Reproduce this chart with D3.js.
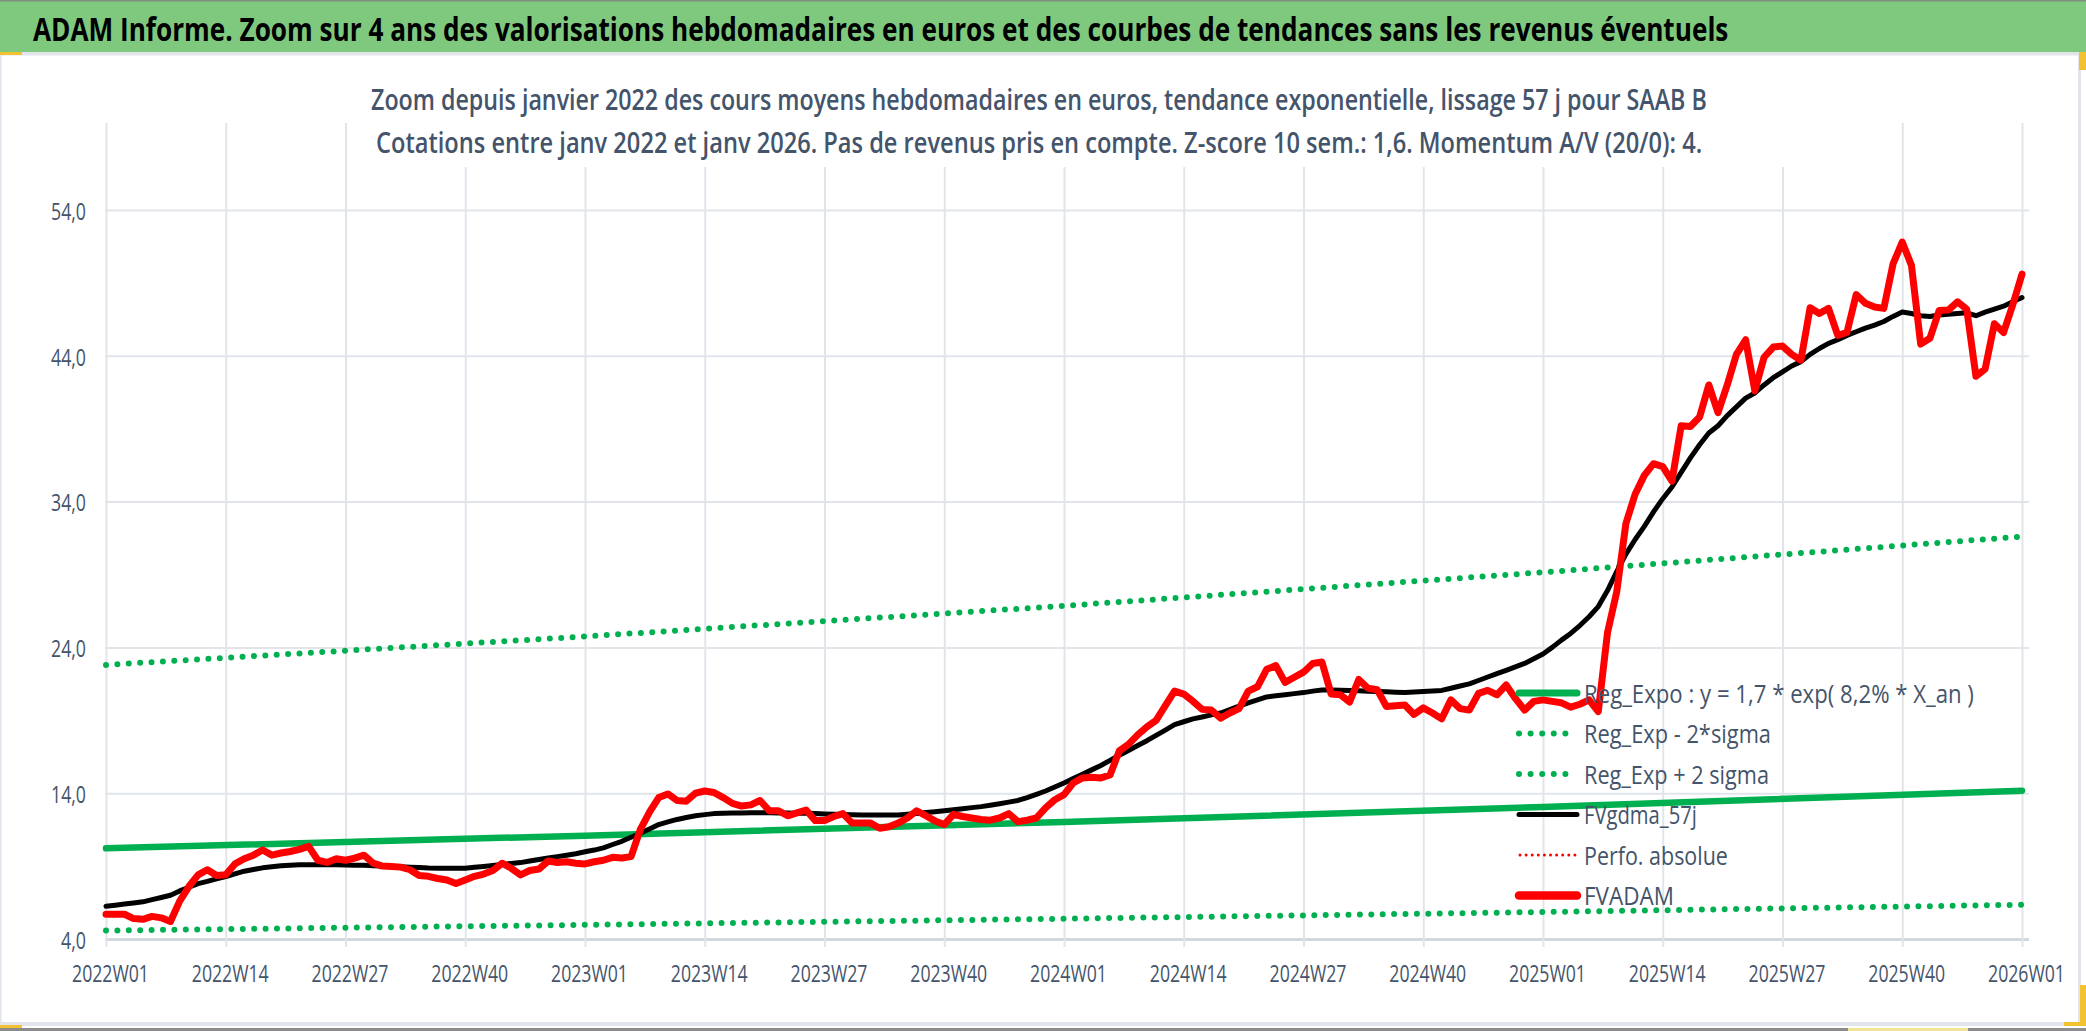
<!DOCTYPE html>
<html>
<head>
<meta charset="utf-8">
<script src="https://cdn.jsdelivr.net/npm/d3@7"></script>
<style>
  html, body { margin: 0; padding: 0; background: #ffffff; }
  svg { display: block; }
  text { font-family: "Open Sans", "Noto Sans", "Liberation Sans", sans-serif; }
</style>
</head>
<body>
<svg id="chart" width="2086" height="1031"></svg>
<script>
// ---------- DATA ----------
const titleText = "ADAM Informe. Zoom sur 4 ans des valorisations hebdomadaires en euros et des courbes de tendances sans les revenus éventuels";
const subtitle1 = "Zoom depuis janvier 2022 des cours moyens hebdomadaires en euros, tendance exponentielle, lissage 57 j pour SAAB B";
const subtitle2 = "Cotations entre janv 2022 et janv 2026. Pas de revenus pris en compte. Z-score 10 sem.: 1,6. Momentum A/V (20/0): 4.";

const years = [2022, 2023, 2024, 2025];
const categories = [];
years.forEach(y => { for (let w = 1; w <= 52; w++) categories.push(y + "W" + String(w).padStart(2, "0")); });
categories.push("2026W01");

const tickLabels = ["2022W01","2022W14","2022W27","2022W40","2023W01","2023W14","2023W27","2023W40",
  "2024W01","2024W14","2024W27","2024W40","2025W01","2025W14","2025W27","2025W40","2026W01"];
const yTicks = [4, 14, 24, 34, 44, 54];

// FVADAM weekly (euros)
const fvadam = [
  5.7, 5.7, 5.7, 5.4, 5.35, 5.55, 5.45, 5.2, 6.6, 7.6, 8.4,
  8.75, 8.35, 8.4, 9.15, 9.5, 9.75, 10.1, 9.75, 9.9, 10.0,
  10.15, 10.35, 9.4, 9.25, 9.5, 9.4, 9.55, 9.75, 9.2, 9.0,
  8.98, 8.93, 8.75, 8.35, 8.3, 8.15, 8.05, 7.8, 8.05, 8.3,
  8.45, 8.7, 9.2, 8.85, 8.4, 8.7, 8.8, 9.35, 9.25, 9.3,
  9.2, 9.15, 9.3, 9.4, 9.6, 9.55, 9.65, 11.5, 12.7, 13.7,
  13.95, 13.5, 13.45, 14.0, 14.15, 14.05, 13.7, 13.3, 13.12, 13.2,
  13.5, 12.8, 12.8, 12.45, 12.65, 12.85, 12.12, 12.12, 12.4, 12.6,
  11.95, 11.95, 11.95, 11.6, 11.7, 11.95, 12.3, 12.8, 12.45, 12.1,
  11.85, 12.55, 12.4, 12.3, 12.2, 12.15, 12.3, 12.6, 12.05, 12.15,
  12.3, 13.0, 13.55, 13.9, 14.7, 15.05, 15.1, 15.05, 15.25, 16.9,
  17.35, 18.0, 18.55, 19.0, 20.0, 21.0, 20.8, 20.3, 19.75, 19.7,
  19.15, 19.5, 19.8, 21.0, 21.3, 22.5, 22.75, 21.6, 21.95, 22.3,
  22.9, 23.0, 20.8, 20.75, 20.25, 21.8, 21.2, 21.1, 19.95, 20.0,
  20.05, 19.4, 19.85, 19.5, 19.1, 20.4, 19.8, 19.7, 20.85, 21.05,
  20.75, 21.42, 20.5, 19.7, 20.3, 20.4, 20.3, 20.2, 19.9, 20.1,
  20.4, 19.6, 25.0, 27.8, 32.5, 34.5, 35.8, 36.6, 36.4, 35.4,
  39.2, 39.15, 39.8, 42.0, 40.1, 42.0, 44.1, 45.1, 41.6, 43.9,
  44.6, 44.67, 44.1, 43.7, 47.3, 46.9, 47.25, 45.4, 45.6, 48.2,
  47.6, 47.35, 47.25, 50.3, 51.8, 50.2, 44.8, 45.2, 47.1, 47.14,
  47.7, 47.2, 42.6, 43.1, 46.2, 45.6, 47.5, 49.6
];

// FVgdma_57j weekly (smoothed)
const fvgdma = [
  6.25, 6.32, 6.4, 6.47, 6.55, 6.7, 6.85, 7.0, 7.3, 7.55, 7.8,
  7.95, 8.12, 8.28, 8.47, 8.65, 8.77, 8.88, 8.95, 9.02, 9.06,
  9.1, 9.1, 9.1, 9.1, 9.1, 9.08, 9.06, 9.05, 9.03, 9.0,
  8.97, 8.95, 8.92, 8.9, 8.87, 8.86, 8.86, 8.85, 8.85, 8.92,
  8.98, 9.05, 9.11, 9.18, 9.24, 9.35, 9.45, 9.55, 9.65, 9.75,
  9.85, 9.98, 10.1, 10.25, 10.48, 10.7, 10.98, 11.25, 11.55, 11.85,
  12.03, 12.2, 12.33, 12.45, 12.53, 12.6, 12.62, 12.64, 12.65, 12.66,
  12.66, 12.66, 12.65, 12.64, 12.63, 12.62, 12.6, 12.58, 12.56, 12.54,
  12.52, 12.5, 12.5, 12.5, 12.5, 12.5, 12.55, 12.61, 12.67, 12.73,
  12.8, 12.87, 12.94, 13.01, 13.08, 13.18, 13.28, 13.39, 13.5, 13.7,
  13.92, 14.15, 14.42, 14.7, 15.0, 15.3, 15.6, 15.9, 16.25, 16.6,
  16.93, 17.27, 17.6, 17.97, 18.33, 18.7, 18.9, 19.1, 19.23, 19.37,
  19.5, 19.73, 19.97, 20.2, 20.4, 20.6, 20.68, 20.75, 20.83, 20.9,
  21.0, 21.08, 21.07, 21.06, 21.04, 21.03, 21.0, 20.98, 20.95, 20.93,
  20.9, 20.94, 20.98, 21.01, 21.05, 21.2, 21.35, 21.5, 21.73, 21.97,
  22.2, 22.43, 22.67, 22.9, 23.22, 23.55, 24.0, 24.5, 24.96, 25.5,
  26.1, 26.8, 27.9, 29.2, 30.4, 31.4, 32.3, 33.3, 34.2, 35.0,
  36.0, 37.0, 37.9, 38.7, 39.2, 39.9, 40.5, 41.1, 41.45, 42.0,
  42.5, 42.9, 43.3, 43.6, 44.1, 44.5, 44.85, 45.1, 45.4, 45.65,
  45.9, 46.1, 46.35, 46.7, 47.0, 46.9, 46.75, 46.7, 46.8, 46.85,
  46.9, 46.95, 46.75, 47.0, 47.2, 47.4, 47.7, 48.0
];

// Regression trend values read at each January (W01)
const regWeeks = ["2022W01", "2023W01", "2024W01", "2025W01", "2026W01"];
const regExpo  = [10.22, 11.09, 12.03, 13.06, 14.17];
const regMinus = [4.58, 4.97, 5.39, 5.85, 6.35];
const regPlus  = [22.8, 24.75, 26.85, 29.15, 31.6];

const legendItems = [
  { label: "Reg_Expo : y = 1,7 * exp( 8,2% *  X_an )", kind: "solidGreen", w: 390 },
  { label: "Reg_Exp - 2*sigma", kind: "dotGreen", w: 187 },
  { label: "Reg_Exp + 2 sigma", kind: "dotGreen", w: 185 },
  { label: "FVgdma_57j", kind: "black", w: 113 },
  { label: "Perfo. absolue", kind: "dotRed", w: 144 },
  { label: "FVADAM", kind: "red", w: 90 }
];

// ---------- DRAW ----------
const W = 2086, H = 1031;
const svg = d3.select("#chart");
const slate = "#44546a";
const green = "#00b050";

// Fit a text to a target width at its natural size, then stretch vertically
// so that glyph height matches the requested size (condensed look of the original).
function fit(sel, targetW, size) {
  sel.each(function (d) {
    const t = d3.select(this);
    const x0 = +t.attr("x") || 0, y0 = +t.attr("y") || 0;
    t.attr("x", null).attr("y", null).attr("dy", null).attr("font-size", size);
    const L = this.getComputedTextLength();
    const tw = typeof targetW === "function" ? targetW(d) : targetW;
    const fs = size * tw / L;
    t.attr("font-size", fs.toFixed(3))
     .attr("transform", `translate(${x0},${y0}) scale(1,${(size / fs).toFixed(4)})`);
  });
}

svg.append("rect").attr("x", 0).attr("y", 0).attr("width", W).attr("height", H).attr("fill", "#ffffff");

// Frame
svg.append("rect").attr("x", 0).attr("y", 0).attr("width", W).attr("height", 52).attr("fill", "#7fc97f");
svg.append("line").attr("x1", 0).attr("x2", W).attr("y1", 0.75).attr("y2", 0.75).attr("stroke", "#7f8f7f").attr("stroke-width", 1.5);
svg.append("rect").attr("x", 0).attr("y", 52).attr("width", W).attr("height", 3.5).attr("fill", "#e1e4ea");
svg.append("rect").attr("x", 2078).attr("y", 55).attr("width", 3).attr("height", 970).attr("fill", "#e1e4ea");
svg.append("rect").attr("x", 0).attr("y", 55).attr("width", 1.5).attr("height", 970).attr("fill", "#e1e4ea");
svg.append("rect").attr("x", 0).attr("y", 1022).attr("width", W).attr("height", 4).attr("fill", "#e1e4ea");
svg.append("rect").attr("x", 0).attr("y", 1028).attr("width", W).attr("height", 3).attr("fill", "#8c8c8c");
// small yellow selection handles
svg.append("rect").attr("x", 0).attr("y", 52).attr("width", 22).attr("height", 3).attr("fill", "#f2c233");
svg.append("rect").attr("x", 2079).attr("y", 52).attr("width", 7).attr("height", 18).attr("fill", "#f2c233");
svg.append("rect").attr("x", 2080).attr("y", 985).attr("width", 6).attr("height", 41).attr("fill", "#f2c233");
svg.append("rect").attr("x", 2064).attr("y", 1022).attr("width", 22).attr("height", 4).attr("fill", "#f2c233");
svg.append("rect").attr("x", 0).attr("y", 1025).attr("width", 22).attr("height", 3).attr("fill", "#f2c233");
svg.append("rect").attr("x", 1848).attr("y", 1028).attr("width", 120).attr("height", 3).attr("fill", "#efe49a");

// Title
fit(svg.append("text").attr("x", 33).attr("y", 41)
  .attr("font-weight", 700).attr("fill", "#000").text(titleText), 1696, 31.5);

// Scales
const x = d3.scaleLinear().domain([0, categories.length - 1]).range([106, 2022]);
const y = d3.scaleLinear().domain([4, 60]).range([939, 939 - 56 * 14.58]);
const idx = c => categories.indexOf(c);

// Y axis with horizontal gridlines
const yAxis = d3.axisLeft(y).tickValues(yTicks).tickSize(-(2029 - 105)).tickPadding(19)
  .tickFormat(d => d.toFixed(1).replace(".", ","));
const gy = svg.append("g").attr("transform", "translate(105,0)").call(yAxis);
gy.select(".domain").remove();
gy.selectAll(".tick line").attr("stroke", d => d === 4 ? "#d3d7de" : "#e1e5ea").attr("stroke-width", d => d === 4 ? 3 : 2);
gy.selectAll(".tick text")
  .attr("font-family", "Open Sans, Noto Sans, sans-serif").attr("fill", slate)
  .attr("x", -19).attr("y", 9.3);
fit(gy.selectAll(".tick text"), d => d < 10 ? 25 : 35, 24);

// X axis with vertical gridlines
const xAxis = d3.axisBottom(x).tickValues(tickLabels.map(idx)).tickSize(-(947 - 123)).tickPadding(0)
  .tickFormat(i => categories[i]);
const gx = svg.append("g").attr("transform", "translate(0,947)").call(xAxis);
gx.select(".domain").remove();
gx.selectAll(".tick line").attr("stroke", "#e1e5ea").attr("stroke-width", 2);
gx.selectAll(".tick text")
  .attr("font-family", "Open Sans, Noto Sans, sans-serif").attr("fill", slate)
  .attr("x", 4).attr("y", 34.5);
fit(gx.selectAll(".tick text"), 77, 23);

// Chart title box (white, hides gridlines) and subtitle
svg.append("rect").attr("x", 352).attr("y", 57).attr("width", 1448).attr("height", 110).attr("fill", "#ffffff");
fit(svg.append("text").attr("x", 371).attr("y", 110)
  .attr("font-weight", 600).attr("fill", slate).text(subtitle1), 1337, 29);
fit(svg.append("text").attr("x", 376).attr("y", 153)
  .attr("font-weight", 600).attr("fill", slate).text(subtitle2), 1327, 29);

// Series
const line = d3.line().x(d => x(d[0])).y(d => y(d[1]));
const regPts = arr => regWeeks.map((w, k) => [idx(w), arr[k]]);
const seriesPts = arr => arr.map((v, i) => [i, v]);

const plot = svg.append("g").attr("fill", "none").attr("stroke-linejoin", "round");

plot.append("path").attr("d", line(regPts(regExpo)))
  .attr("stroke", green).attr("stroke-width", 6.5).attr("stroke-linecap", "round");
plot.append("path").attr("d", line(regPts(regMinus)))
  .attr("stroke", green).attr("stroke-width", 6).attr("stroke-linecap", "round").attr("stroke-dasharray", "0 11.4");
plot.append("path").attr("d", line(regPts(regPlus)))
  .attr("stroke", green).attr("stroke-width", 6).attr("stroke-linecap", "round").attr("stroke-dasharray", "0 11.4");
plot.append("path").attr("d", line(seriesPts(fvgdma)))
  .attr("stroke", "#000000").attr("stroke-width", 5).attr("stroke-linecap", "round");
plot.append("path").attr("d", line(seriesPts(fvadam)))
  .attr("stroke", "#ff0000").attr("stroke-width", 7).attr("stroke-linecap", "round");

// Legend
const legY0 = 693, legDy = 40.5, sx1 = 1519, sx2 = 1577;
const leg = svg.append("g");
legendItems.forEach((it, k) => {
  const cy = legY0 + k * legDy;
  const p = leg.append("line").attr("x1", sx1).attr("x2", sx2).attr("y1", cy).attr("y2", cy)
    .attr("stroke-linecap", "round");
  if (it.kind === "solidGreen") p.attr("stroke", green).attr("stroke-width", 7);
  if (it.kind === "dotGreen") p.attr("stroke", green).attr("stroke-width", 6).attr("stroke-dasharray", "0 11.6");
  if (it.kind === "black") p.attr("stroke", "#000").attr("stroke-width", 5);
  if (it.kind === "dotRed") p.attr("x1", 1520).attr("stroke", "#ff0000").attr("stroke-width", 3).attr("stroke-dasharray", "0 6.1");
  if (it.kind === "red") p.attr("stroke", "#ff0000").attr("stroke-width", 8.5);
  fit(leg.append("text").attr("x", 1584).attr("y", cy + 9.5)
    .attr("fill", slate).text(it.label), it.w, 26);
});
</script>
</body>
</html>
